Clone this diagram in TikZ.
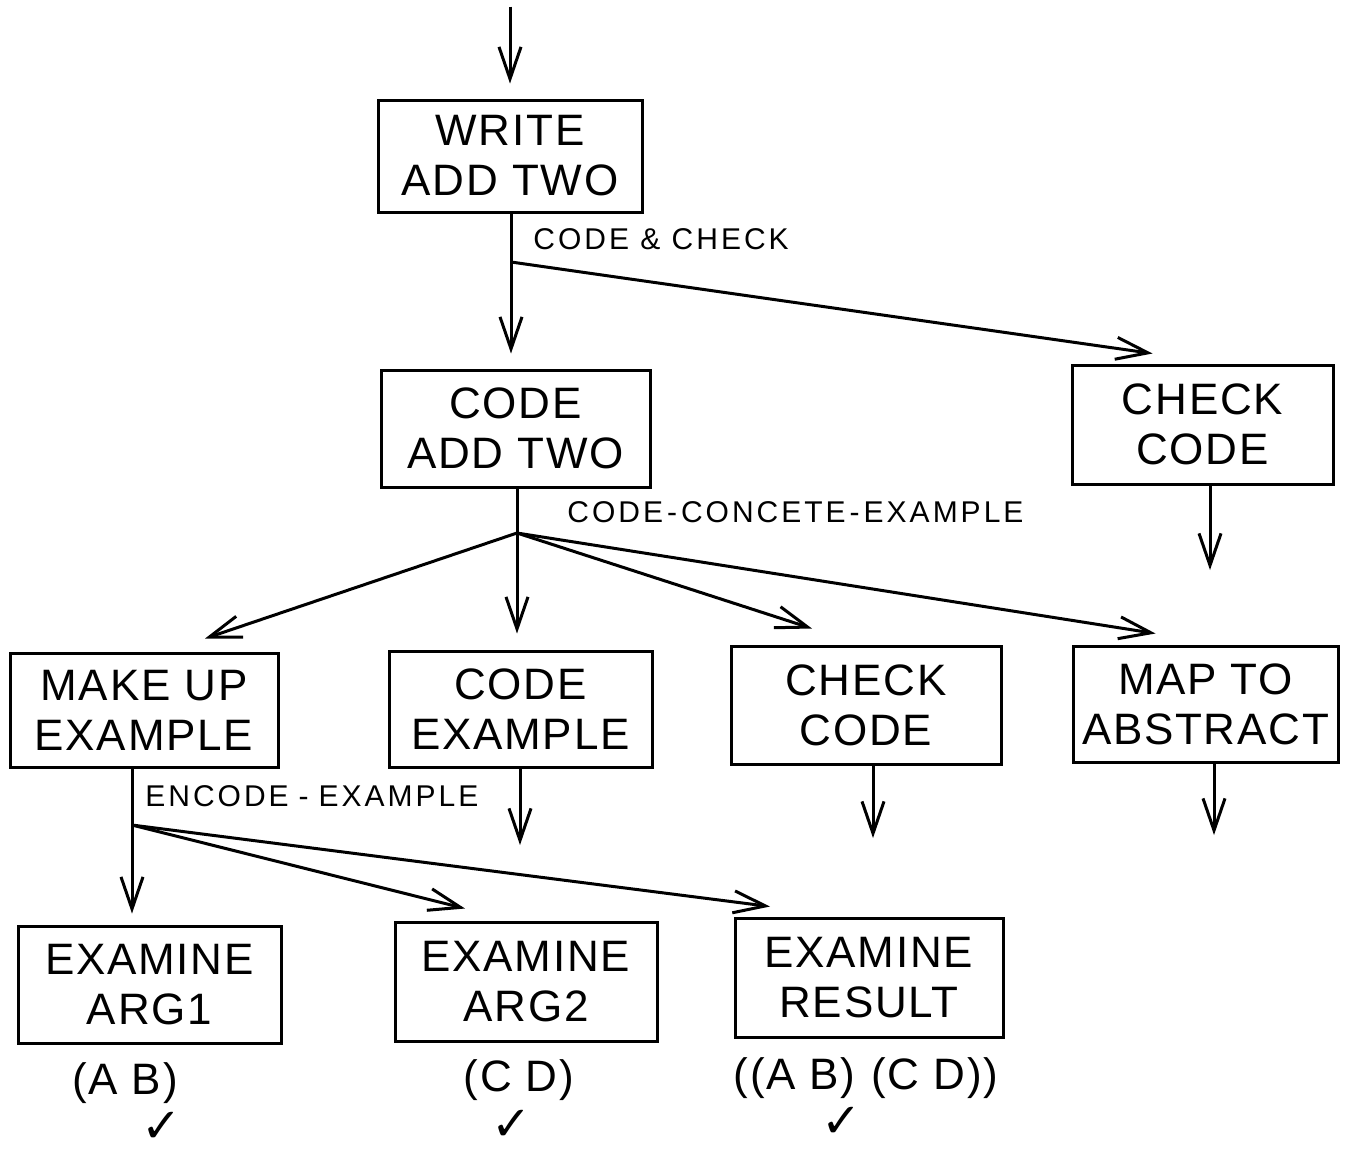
\documentclass[tikz,border=0pt]{standalone}
\usepackage{fontspec}
\setmainfont{Liberation Sans}
\newfontfamily\boxfont{Liberation Sans}[LetterSpace=4]
\newfontfamily\labfont{Liberation Sans}[LetterSpace=10]
\newfontfamily\symfont{DejaVu Sans}
\usetikzlibrary{arrows.meta}

\tikzset{
  stepbox/.style={draw, line width=1.5pt, align=center, inner sep=0pt,
    font=\boxfont\fontsize{22}{25}\selectfont},
  edgelabel/.style={anchor=base west, inner sep=0pt,
    font=\labfont\fontsize{15}{17}\selectfont},
  leaftext/.style={inner sep=0pt, font=\boxfont\fontsize{22}{25}\selectfont},
  tick/.style={inner sep=0pt, font=\symfont\fontsize{24}{26}\selectfont},
  link/.style={line width=1.5pt},
  arr/.style={line width=1.5pt, -{Straight Barb[length=16pt,width=11pt]}},
}

\begin{document}
\begin{tikzpicture}[x=0.5pt, y=-0.5pt]
\useasboundingbox (0,0) rectangle (1352,1153);

% goal boxes
\node[stepbox, minimum width=132pt, minimum height=56pt]   (write)  at (510,156)    {WRITE\\ADD TWO};
\node[stepbox, minimum width=134.5pt, minimum height=58.5pt] (code) at (515.5,428.5) {CODE\\ADD TWO};
\node[stepbox, minimum width=130.5pt, minimum height=59.5pt] (check1) at (1202.5,424.5) {CHECK\\CODE};
\node[stepbox, minimum width=134pt, minimum height=57pt]   (makeup) at (144,710)    {MAKE UP\\EXAMPLE};
\node[stepbox, minimum width=131.5pt, minimum height=58pt] (codeex) at (520.5,709)  {CODE\\EXAMPLE};
\node[stepbox, minimum width=135pt, minimum height=59pt]   (check2) at (866,705)    {CHECK\\CODE};
\node[stepbox, minimum width=132.5pt, minimum height=58pt] (mapabs) at (1205.5,704) {MAP TO\\ABSTRACT};
\node[stepbox, minimum width=131.5pt, minimum height=58.5pt] (arg1) at (149.5,984.5) {EXAMINE\\ARG1};
\node[stepbox, minimum width=131pt, minimum height=59.5pt] (arg2)   at (526,981.5)  {EXAMINE\\ARG2};
\node[stepbox, minimum width=134pt, minimum height=59.5pt] (result) at (869,977.5)  {EXAMINE\\RESULT};

% plan labels
\node[edgelabel] (lab1) at (533,249) {CODE \& CHECK};
\node[edgelabel] (lab2) at (567,522) {CODE\hspace{2pt}-\hspace{2pt}CONCETE\hspace{2pt}-\hspace{2pt}EXAMPLE};
\node[edgelabel] (lab3) at (145,806) {ENCODE\hspace{5pt}-\hspace{5pt}EXAMPLE};

% example values and ticks
\node[leaftext] (v1) at (125,1083) {(A B)};
\node[leaftext] (v2) at (519,1080) {(C D)};
\node[leaftext] (v3) at (866,1078) {((A B)\hspace{8pt}(C D))};
\node[tick] (t1) at (162,1127) {✓};
\node[tick] (t2) at (512,1125) {✓};
\node[tick] (t3) at (842,1122) {✓};

% branch points and loose ends
\coordinate (in) at ([yshift=46pt]write.north);
\coordinate (j1) at (511,262);
\coordinate (j2) at (517,533);
\coordinate (j3) at (132,825);
\coordinate (o1) at (1210,570);
\coordinate (o2) at (520,845);
\coordinate (o3) at (873,838);
\coordinate (o4) at (1214,835);

% connectors
\draw[arr, shorten >=7.5pt] (in) -- (in |- write.north);

\draw[link] (write.south -| j1) -- (j1);
\draw[arr, shorten >=7.5pt] (j1) -- (j1 |- code.north);
\draw[arr] (j1) -- ([shift={(-50,-10)}]check1.north);

\draw[arr] (check1.south -| o1) -- (o1);

\draw[link] (code.south -| j2) -- (j2);
\draw[arr] (j2) -- ([shift={(61,-13)}]makeup.north);
\draw[arr, shorten >=8pt] (j2) -- (j2 |- codeex.north);
\draw[arr] (j2) -- ([shift={(-54,-16)}]check2.north);
\draw[arr] (j2) -- ([shift={(-50,-11)}]mapabs.north);

\draw[arr] (codeex.south -| o2) -- (o2);
\draw[arr] (check2.south -| o3) -- (o3);
\draw[arr] (mapabs.south -| o4) -- (o4);

\draw[link] (makeup.south -| j3) -- (j3);
\draw[arr, shorten >=5.5pt] (j3) -- (j3 |- arg1.north);
\draw[arr] (j3) -- ([shift={(-61,-12)}]arg2.north);
\draw[arr] (j3) -- ([shift={(-99,-10)}]result.north);
\end{tikzpicture}
\end{document}
